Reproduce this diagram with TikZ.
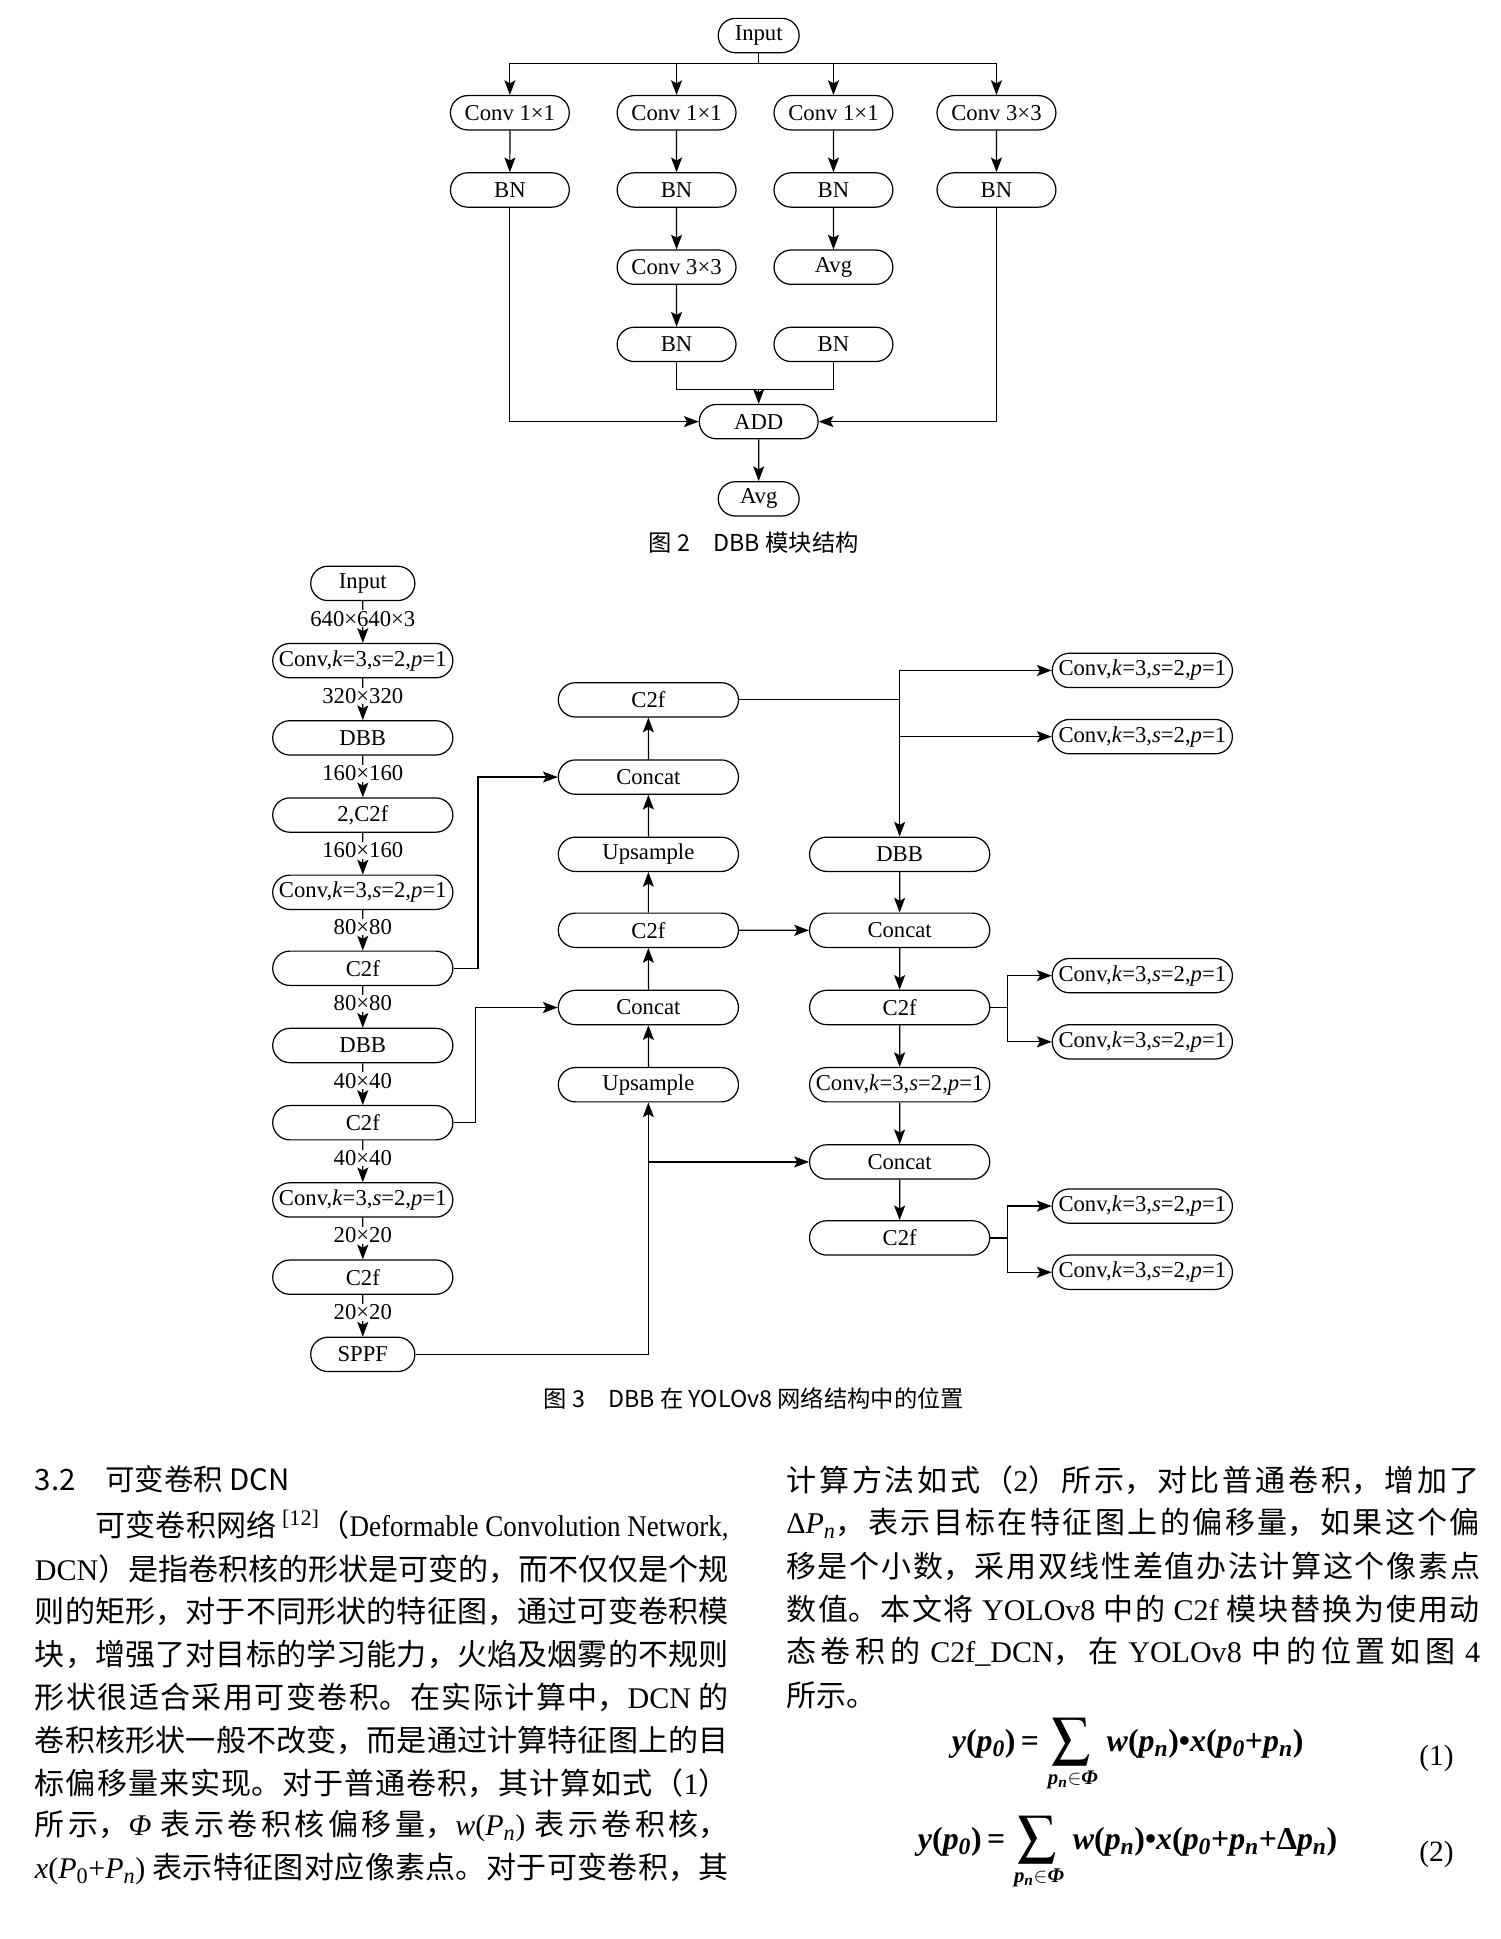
\documentclass[tikz,border=0pt]{standalone}
\usepackage{graphicx}
\usepackage{mathptmx}
\usepackage{fontspec}
\setmainfont{Liberation Serif}
\newfontfamily\cjk{Noto Sans CJK SC}
\newfontfamily\tms{Liberation Serif}
\usetikzlibrary{shapes.misc,arrows.meta,calc}
\XeTeXlinebreaklocale "zh"
\XeTeXlinebreakskip=0pt plus 4pt minus 0.5pt
\XeTeXlinebreakpenalty=10000
\hbadness=10000
\hfuzz=50pt
\newcommand\T[1]{{\tms #1}}
\newcommand\bi[1]{\textbf{\textit{#1}}}
\newcommand\sbi[1]{\textsubscript{\bi{#1}}}
\newcommand\sumlimtext{\mbox{\fontsize{17}{18}\selectfont\bi{p}\sbi{n}$\in$\bi{Φ}}}
\newcommand\bigsum{\mathop{\scalebox{1.2}{$\displaystyle\sum$}}\limits_{\sumlimtext}}
\newcommand\jl[1]{\parbox{566pt}{\parindent=0pt\parfillskip=0pt\cjk\fontsize{24.5}{30}\selectfont #1}}
\newcommand\nl[1]{\parbox{566pt}{\parindent=0pt\cjk\fontsize{24.5}{30}\selectfont #1}}
\newcommand\cv{Conv,\textit{k}=3,\textit{s}=2,\textit{p}=1}
\tikzset{
  box/.style={draw, line width=1pt, rounded rectangle, minimum height=28pt, inner sep=0pt, font=\fontsize{18.5}{20}\selectfont},
  tw/.style={box, minimum width=97pt},
  ts/.style={box, minimum width=66pt},
  bw/.style={box, minimum width=147pt},
  bs/.style={box, minimum width=85pt},
  arr/.style={-{Stealth[length=12pt,width=9pt,inset=2.5pt]}, line width=1pt},
  ln/.style={line width=1pt},
  lab/.style={fill=white, inner sep=0.6pt, font=\fontsize{18.5}{20}\selectfont},
  captext/.style={font=\cjk\fontsize{19}{22}\selectfont},
}
\begin{document}
\begin{tikzpicture}[x=1pt,y=-1pt]
\useasboundingbox[fill=white] (0,0) rectangle (1224,1582);
% ---------- Fig 2 ----------
\node[ts] (in2) at (619,29) {Input};
\node[tw] (c1) at (416,92) {Conv 1×1};
\node[tw] (c2) at (552,92) {Conv 1×1};
\node[tw] (c3) at (680,92) {Conv 1×1};
\node[tw] (c4) at (813,92) {Conv 3×3};
\node[tw] (b1) at (416,155) {BN};
\node[tw] (b2) at (552,155) {BN};
\node[tw] (b3) at (680,155) {BN};
\node[tw] (b4) at (813,155) {BN};
\node[tw] (c5) at (552,218) {Conv 3×3};
\node[tw] (a1) at (680,218) {Avg};
\node[tw] (b5) at (552,281) {BN};
\node[tw] (b6) at (680,281) {BN};
\node[tw] (add) at (619,344) {ADD};
\node[ts] (avg) at (619,407) {Avg};
\node[captext] (cap2) at (615,443) {图 2\quad DBB 模块结构};
\coordinate (bus) at (619,52);
\coordinate (mg) at (619,318);
\draw[ln] (in2) -- (bus);
\foreach \n in {c1,c2,c3,c4} \draw[arr] (bus) -| (\n);
\draw[arr] (c1) -- (b1);
\draw[arr] (c2) -- (b2);
\draw[arr] (c3) -- (b3);
\draw[arr] (c4) -- (b4);
\draw[arr] (b2) -- (c5);
\draw[arr] (b3) -- (a1);
\draw[arr] (c5) -- (b5);
\draw[ln] (b5) |- (mg);
\draw[ln] (b6) |- (mg);
\draw[arr] (mg) -- (add);
\draw[arr] (b1) |- (add);
\draw[arr] (b4) |- (add);
\draw[arr] (add) -- (avg);
% ---------- Fig 3 ----------
\node[bs] (L0) at (296,476) {Input};
\node[bw] (L1) at (296,539) {\cv};
\node[bw] (L2) at (296,602) {DBB};
\node[bw] (L3) at (296,665) {2,C2f};
\node[bw] (L4) at (296,728) {\cv};
\node[bw] (L5) at (296,790) {C2f};
\node[bw] (L6) at (296,853) {DBB};
\node[bw] (L7) at (296,916) {C2f};
\node[bw] (L8) at (296,979) {\cv};
\node[bw] (L9) at (296,1042) {C2f};
\node[bs] (L10) at (296,1105) {SPPF};
\draw[arr] (L0) -- node[lab,pos=0.42] {640×640×3} (L1);
\draw[arr] (L1) -- node[lab,pos=0.42] {320×320} (L2);
\draw[arr] (L2) -- node[lab,pos=0.42] {160×160} (L3);
\draw[arr] (L3) -- node[lab,pos=0.42] {160×160} (L4);
\draw[arr] (L4) -- node[lab,pos=0.42] {80×80} (L5);
\draw[arr] (L5) -- node[lab,pos=0.42] {80×80} (L6);
\draw[arr] (L6) -- node[lab,pos=0.42] {40×40} (L7);
\draw[arr] (L7) -- node[lab,pos=0.42] {40×40} (L8);
\draw[arr] (L8) -- node[lab,pos=0.42] {20×20} (L9);
\draw[arr] (L9) -- node[lab,pos=0.42] {20×20} (L10);
\node[bw] (M1) at (529,571) {C2f};
\node[bw] (M2) at (529,634) {Concat};
\node[bw] (M3) at (529,697) {Upsample};
\node[bw] (M4) at (529,759) {C2f};
\node[bw] (M5) at (529,822) {Concat};
\node[bw] (M6) at (529,885) {Upsample};
\node[bw] (R1) at (734,697) {DBB};
\node[bw] (R2) at (734,759) {Concat};
\node[bw] (R3) at (734,822) {C2f};
\node[bw] (R4) at (734,885) {\cv};
\node[bw] (R5) at (734,948) {Concat};
\node[bw] (R6) at (734,1010) {C2f};
\node[bw] (F1) at (932,547) {\cv};
\node[bw] (F2) at (932,601) {\cv};
\node[bw] (F3) at (932,796) {\cv};
\node[bw] (F4) at (932,850) {\cv};
\node[bw] (F5) at (932,984) {\cv};
\node[bw] (F6) at (932,1038) {\cv};
\draw[arr] (L5.east) -- ++(20,0) |- (M2.west);
\draw[arr] (L7.east) -- ++(18,0) |- (M5.west);
\draw[arr] (L10.east) -| (M6.south);
\draw[arr] (M6 |- R5) -- (R5.west);
\draw[arr] (M6) -- (M5);
\draw[arr] (M5) -- (M4);
\draw[arr] (M4) -- (M3);
\draw[arr] (M3) -- (M2);
\draw[arr] (M2) -- (M1);
\draw[arr] (M4) -- (R2);
\draw[ln] (M1.east) -- (M1 -| R1);
\draw[arr] (R1 |- F1) -- (R1);
\draw[arr] (R1 |- F1) -- (F1);
\draw[arr] (R1 |- F2) -- (F2);
\draw[arr] (R1) -- (R2);
\draw[arr] (R2) -- (R3);
\draw[arr] (R3) -- (R4);
\draw[arr] (R4) -- (R5);
\draw[arr] (R5) -- (R6);
\coordinate (k1) at (822,822);
\coordinate (k2) at (822,1010);
\draw[ln] (R3.east) -- (k1);
\draw[arr] (k1) |- (F3);
\draw[arr] (k1) |- (F4);
\draw[ln] (R6.east) -- (k2);
\draw[arr] (k2) |- (F5);
\draw[arr] (k2) |- (F6);
\node[captext] (cap3) at (615,1141) {图 3\quad DBB 在 YOLOv8 网络结构中的位置};
% ---------- Text ----------
\node[anchor=west, font=\cjk\fontsize{24}{28}\selectfont] (h) at (25,1207) {3.2\quad 可变卷积 DCN};
\node[anchor=west] (p1) at (25,1245) {\jl{\hspace*{2em}可变卷积网络\,\textsuperscript{\T{[12]}}（\scalebox{0.9}[1]{\T{Deformable Convolution Network,}}}};
\node[anchor=west] (p2) at (25,1280) {\jl{\T{DCN}）是指卷积核的形状是可变的，而不仅仅是个规}};
\node[anchor=west] (p3) at (25,1315) {\jl{则的矩形，对于不同形状的特征图，通过可变卷积模}};
\node[anchor=west] (p4) at (25,1350) {\jl{块，增强了对目标的学习能力，火焰及烟雾的不规则}};
\node[anchor=west] (p5) at (25,1385) {\jl{形状很适合采用可变卷积。在实际计算中，\T{DCN}~的}};
\node[anchor=west] (p6) at (25,1420) {\jl{卷积核形状一般不改变，而是通过计算特征图上的目}};
\node[anchor=west] (p7) at (25,1455) {\jl{标偏移量来实现。对于普通卷积，其计算如式（\T{1}）}};
\node[anchor=west] (p8) at (25,1490) {\jl{所示，\T{\textit{Φ}}~表示卷积核偏移量，\T{\textit{w}(\textit{P}\textsubscript{\textit{n}})}~表示卷积核，}};
\node[anchor=west] (p9) at (25,1525) {\jl{\T{\textit{x}(\textit{P}\textsubscript{0}+\textit{P}\textsubscript{\textit{n}})}~表示特征图对应像素点。对于可变卷积，其}};
\node[anchor=west] (q1) at (638,1208) {\jl{计算方法如式（\T{2}）所示，对比普通卷积，增加了}};
\node[anchor=west] (q2) at (638,1243) {\jl{\T{Δ\textit{P}\textsubscript{\textit{n}}}，表示目标在特征图上的偏移量，如果这个偏}};
\node[anchor=west] (q3) at (638,1278) {\jl{移是个小数，采用双线性差值办法计算这个像素点}};
\node[anchor=west] (q4) at (638,1313) {\jl{数值。本文将~\T{YOLOv8}~中的~\T{C2f}~模块替换为使用动}};
\node[anchor=west] (q5) at (638,1348) {\jl{态卷积的~\T{C2f\_DCN}，在~\T{YOLOv8}~中的位置如图~\T{4}}};
\node[anchor=west] (q6) at (638,1383) {\nl{所示。}};
\node (eq1) at (920,1432) {\fontsize{26}{30}\selectfont $\displaystyle \mbox{\bi{y}\textbf{(}\bi{p}\sbi{0}\textbf{)}\,\textbf{=}\,}\bigsum\mbox{\,\bi{w}\textbf{(}\bi{p}\sbi{n}\textbf{)}\textbf{•}\bi{x}\textbf{(}\bi{p}\sbi{0}\textbf{+}\bi{p}\sbi{n}\textbf{)}}$};
\node (n1) at (1172,1435) {\fontsize{24}{28}\selectfont (1)};
\node (eq2) at (920,1512) {\fontsize{26}{30}\selectfont $\displaystyle \mbox{\bi{y}\textbf{(}\bi{p}\sbi{0}\textbf{)}\,\textbf{=}\,}\bigsum\mbox{\,\bi{w}\textbf{(}\bi{p}\sbi{n}\textbf{)}\textbf{•}\bi{x}\textbf{(}\bi{p}\sbi{0}\textbf{+}\bi{p}\sbi{n}\textbf{+Δ}\bi{p}\sbi{n}\textbf{)}}$};
\node (n2) at (1172,1513) {\fontsize{24}{28}\selectfont (2)};
\end{tikzpicture}
\end{document}
